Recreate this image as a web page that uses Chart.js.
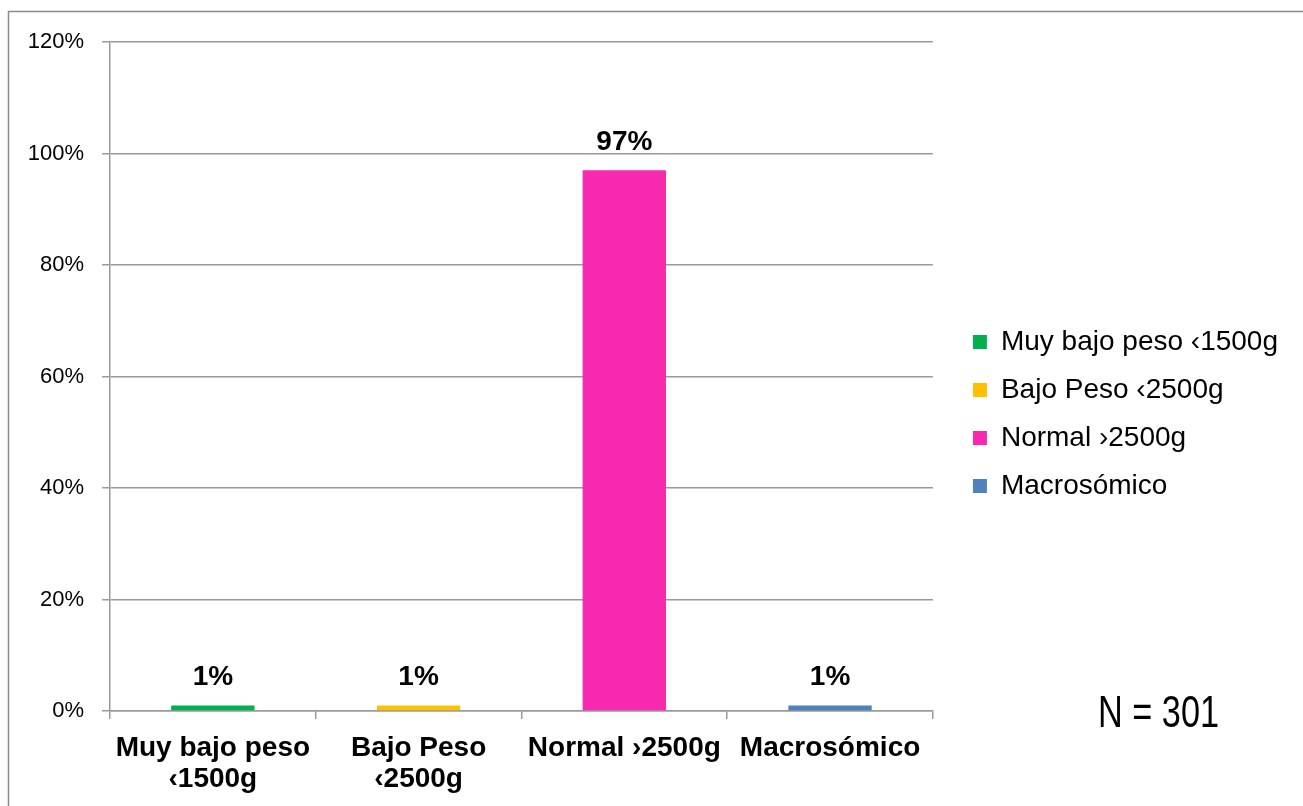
<!DOCTYPE html>
<html>
<head>
<meta charset="utf-8">
<script src="https://cdn.jsdelivr.net/npm/chart.js@4.4.1/dist/chart.umd.min.js"></script>
<style>
  html, body { margin: 0; padding: 0; background: #ffffff; }
  #wrap { width: 1303px; height: 806px; position: relative; }
</style>
</head>
<body>
<div id="wrap"><canvas id="c" width="1303" height="806"></canvas></div>
<script>
// Birth weight distribution (percent of newborns)
const categories = ["Muy bajo peso ‹1500g", "Bajo Peso ‹2500g", "Normal ›2500g", "Macrosómico"];
const axisLabels = [["Muy bajo peso", "‹1500g"], ["Bajo Peso", "‹2500g"], ["Normal ›2500g"], ["Macrosómico"]];
const percentages = [1, 1, 97, 1];
const barColors = ["#00B050", "#FFC000", "#F72AAF", "#4F81BD"];
const yTicks = [0, 20, 40, 60, 80, 100, 120];
const sampleNote = "N = 301";

const FONT = "'Liberation Sans', Arial, Helvetica, sans-serif";
const GRID = "#9a9a9a";

// Outer frame of the figure
const framePlugin = {
  id: "frame",
  beforeDraw(chart) {
    const ctx = chart.ctx;
    ctx.save();
    ctx.fillStyle = "#ffffff";
    ctx.fillRect(0, 0, chart.width, chart.height);
    ctx.strokeStyle = "#8c8c8c";
    ctx.lineWidth = 1.5;
    ctx.strokeRect(8.5, 11.5, chart.width + 10, chart.height + 10);
    ctx.restore();
  }
};

// Value labels above each bar, plus the sample size note
const valueLabelPlugin = {
  id: "valueLabels",
  afterDatasetsDraw(chart) {
    const ctx = chart.ctx;
    const meta = chart.getDatasetMeta(0);
    ctx.save();
    ctx.font = "bold 28px " + FONT;
    ctx.fillStyle = "#000000";
    ctx.textAlign = "center";
    ctx.textBaseline = "alphabetic";
    meta.data.forEach((bar, i) => {
      ctx.fillText(percentages[i] + "%", bar.x, bar.y - 20);
    });
    ctx.font = "44px 'Liberation Sans Narrow', " + FONT;
    ctx.textAlign = "left";
    ctx.fillText(sampleNote, 1098, 727, 121);
    ctx.restore();
  }
};

// Empty spacer axis (no ticks, no lines)
const spacer = (position, size) => ({
  position,
  display: true,
  afterFit(scale) {
    if (position === "top") scale.height = size; else scale.width = size;
  },
  grid: { display: false },
  border: { display: false },
  ticks: { display: false }
});

new Chart(document.getElementById("c"), {
  type: "bar",
  data: {
    labels: axisLabels,
    datasets: [{
      data: percentages,
      backgroundColor: barColors,
      borderWidth: 0,
      barPercentage: 0.405,
      categoryPercentage: 1.0
    }]
  },
  options: {
    responsive: false,
    animation: false,
    devicePixelRatio: 1,
    layout: { padding: { top: 22, left: 0, right: 15, bottom: 0 } },
    scales: {
      x: {
        afterFit(scale) { scale.height = 95; },
        grid: {
          display: true,
          drawOnChartArea: false,
          drawTicks: true,
          tickLength: 8,
          offset: true,
          color: GRID,
          lineWidth: 1.5
        },
        border: { display: true, color: GRID, width: 1.5 },
        ticks: {
          color: "#000000",
          padding: 14,
          maxRotation: 0,
          autoSkip: false,
          font: { family: FONT, size: 28, weight: "bold", lineHeight: 1.1 }
        }
      },
      y: {
        min: 0,
        max: 120,
        afterFit(scale) { scale.width = 110; },
        afterBuildTicks(scale) { scale.ticks = yTicks.map(v => ({ value: v })); },
        grid: {
          color: GRID,
          lineWidth: 1.5,
          tickLength: 8,
          drawTicks: true
        },
        border: { display: true, color: GRID, width: 1.5 },
        ticks: {
          color: "#000000",
          padding: 18,
          font: { family: FONT, size: 22 },
          callback: v => v + "%"
        }
      },
      gapRight: spacer("right", 20),
      gapTop: spacer("top", 20)
    },
    plugins: {
      legend: {
        display: true,
        position: "right",
        maxWidth: 420,
        labels: {
          boxWidth: 14,
          boxHeight: 14,
          padding: 20,
          color: "#000000",
          font: { family: FONT, size: 28 },
          generateLabels() {
            return categories.map((name, i) => ({
              text: name,
              fillStyle: barColors[i],
              strokeStyle: barColors[i],
              lineWidth: 0,
              hidden: false,
              index: i
            }));
          }
        }
      },
      tooltip: { enabled: false }
    }
  },
  plugins: [framePlugin, valueLabelPlugin]
});
</script>
</body>
</html>
